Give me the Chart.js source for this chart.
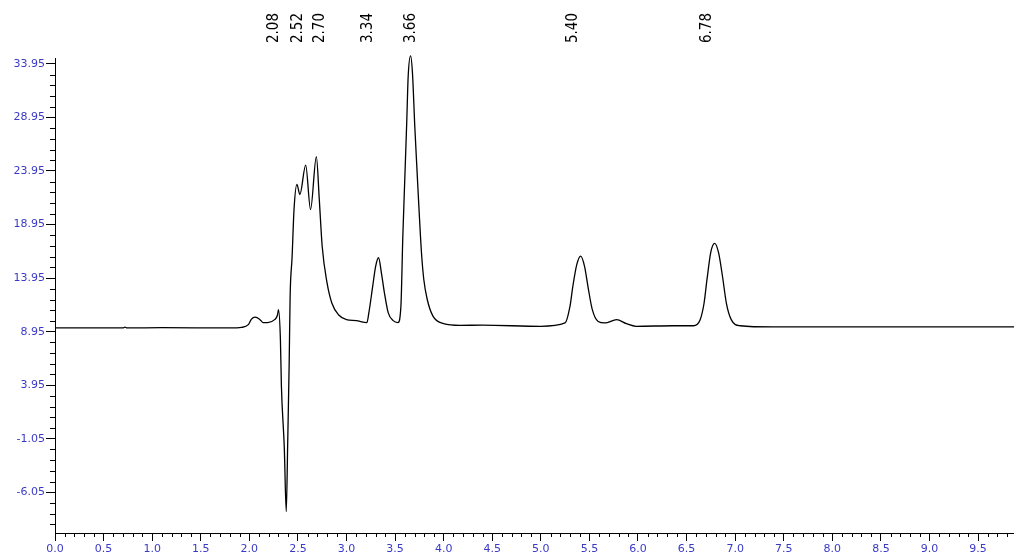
<!DOCTYPE html>
<html>
<head>
<meta charset="utf-8">
<script src="https://cdn.jsdelivr.net/npm/chart.js@4/dist/chart.umd.min.js"></script>
<style>
html,body{margin:0;padding:0;background:#fff;}
#wrap{width:1014px;height:553px;position:relative;}
</style>
</head>
<body>
<div id="wrap"><canvas id="c"></canvas></div>
<script>
// ---- data ----
const times = [0.00,0.70,0.72,0.74,1.10,1.80,1.92,1.99,2.02,2.06,2.11,2.14,2.19,2.26,2.29,2.30,2.32,2.33,2.36,2.38,2.395,2.41,2.42,2.44,2.46,2.49,2.52,2.58,2.63,2.69,2.72,2.75,2.80,2.85,2.92,3.00,3.10,3.21,3.23,3.27,3.30,3.33,3.36,3.39,3.43,3.48,3.53,3.56,3.58,3.60,3.62,3.635,3.66,3.679,3.703,3.727,3.748,3.772,3.796,3.830,3.89,4.00,4.17,4.40,5.00,5.25,5.30,5.33,5.37,5.41,5.45,5.49,5.53,5.59,5.66,5.78,5.88,5.98,6.36,6.57,6.64,6.68,6.71,6.75,6.79,6.83,6.87,6.91,6.96,7.05,7.39,9.87];
const signal = [9.30,9.30,9.38,9.30,9.32,9.30,9.35,9.60,10.10,10.30,10.07,9.80,9.80,10.07,10.50,11.00,8.20,3.90,-1.90,-7.85,-1.40,5.90,12.25,15.90,20.35,22.70,21.75,24.50,20.35,25.30,21.30,16.90,13.50,11.60,10.50,10.07,9.98,9.80,10.70,13.20,15.05,15.85,14.40,12.60,10.70,9.98,9.80,11.30,17.90,23.20,28.50,32.80,34.70,33.10,28.10,23.80,20.10,16.30,13.80,12.00,10.40,9.70,9.54,9.55,9.45,9.76,11.30,13.20,15.20,16.00,15.05,12.90,11.00,9.90,9.76,10.07,9.70,9.45,9.50,9.50,10.07,11.60,13.80,16.40,17.20,16.30,14.10,11.60,10.07,9.50,9.39,9.39];
const peakLabels = ["2.08","2.52","2.70","3.34","3.66","5.40","6.78"];
const peakLabelAt = [2.25,2.50,2.73,3.22,3.66,5.33,6.71];
const xTicks = [0.0,0.5,1.0,1.5,2.0,2.5,3.0,3.5,4.0,4.5,5.0,5.5,6.0,6.5,7.0,7.5,8.0,8.5,9.0,9.5];
const yTicks = [-6.05,-1.05,3.95,8.95,13.95,18.95,23.95,28.95,33.95];
const xRange = [0, 9.87];
const yRange = [-9.85, 34.5];

const points = times.map((t,i)=>({x:t,y:signal[i]}));
const tickBlue = '#3a3ac6';

const extras = {
  id:'extras',
  afterDraw(chart){
    const ctx = chart.ctx, xs = chart.scales.x, ys = chart.scales.y;
    const ca = chart.chartArea;
    ctx.save();
    ctx.strokeStyle = '#000'; ctx.lineWidth = 1;
    // minor x ticks every 0.1
    for (let k=0; k*0.1 <= xRange[1]+1e-9; k++){
      if (k%5===0) continue;
      const px = Math.round(xs.getPixelForValue(k*0.1))+0.5;
      ctx.beginPath(); ctx.moveTo(px, ca.bottom); ctx.lineTo(px, ca.bottom+4); ctx.stroke();
    }
    // minor y ticks every 1.0
    for (let v = yTicks[0]-3; v <= yTicks[yTicks.length-1]+1e-9; v += 1){
      const isMajor = yTicks.some(t=>Math.abs(t-v)<1e-6);
      if (isMajor || v < yRange[0]) continue;
      const py = Math.round(ys.getPixelForValue(v))+0.5;
      ctx.beginPath(); ctx.moveTo(ca.left-5, py); ctx.lineTo(ca.left, py); ctx.stroke();
    }
    // peak labels
    ctx.fillStyle = '#000';
    ctx.font = '15px "Liberation Sans Narrow", "DejaVu Sans Condensed", "Liberation Sans", sans-serif';
    ctx.textAlign = 'left'; ctx.textBaseline = 'middle';
    peakLabels.forEach((lab,i)=>{
      const px = xs.getPixelForValue(peakLabelAt[i]);
      ctx.save();
      ctx.translate(px, 43);
      ctx.rotate(-Math.PI/2);
      ctx.fillText(lab, 0, 0);
      ctx.restore();
    });
    ctx.restore();
  }
};

new Chart(document.getElementById('c'), {
  type:'line',
  data:{ datasets:[{ data: points, borderColor:'#000', borderWidth:1.3, pointRadius:0, fill:false, clip:false, cubicInterpolationMode:'monotone' }]},
  options:{
    responsive:true, maintainAspectRatio:false, animation:false,
    layout:{ padding:{ top:58, right:0, left:0, bottom:0 } },
    plugins:{ legend:{display:false}, tooltip:{enabled:false} },
    scales:{
      x:{
        type:'linear', min:xRange[0], max:xRange[1],
        afterBuildTicks(s){ s.ticks = xTicks.map(v=>({value:v})); },
        afterFit(s){ s.height = 20; },
        grid:{ display:true, drawOnChartArea:false, tickLength:8, tickColor:'#000', tickWidth:1 },
        border:{ display:true, color:'#000', width:1 },
        ticks:{ autoSkip:false, maxRotation:0, padding:2, color:tickBlue,
          font:{ family:'"DejaVu Sans", Verdana, sans-serif', size:11 },
          callback:(v)=>Number(v).toFixed(1) }
      },
      y:{
        type:'linear', min:yRange[0], max:yRange[1],
        afterBuildTicks(s){ s.ticks = yTicks.map(v=>({value:v})); },
        afterFit(s){ s.width = 55; },
        grid:{ display:true, drawOnChartArea:false, tickLength:9, tickColor:'#000', tickWidth:1 },
        border:{ display:true, color:'#000', width:1 },
        ticks:{ autoSkip:false, padding:1, color:tickBlue,
          font:{ family:'"DejaVu Sans", Verdana, sans-serif', size:11 },
          callback:(v)=>Number(v).toFixed(2) }
      }
    }
  },
  plugins:[extras]
});
</script>
</body>
</html>
